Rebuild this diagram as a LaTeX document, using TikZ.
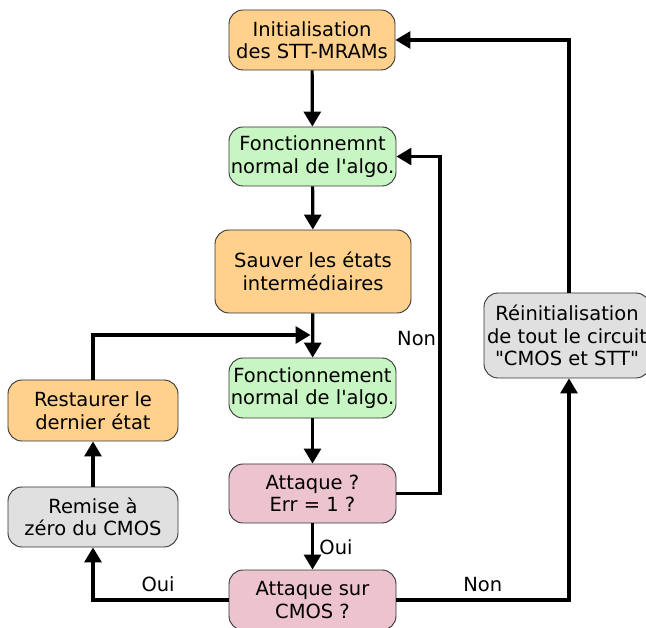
\documentclass[tikz,border=0pt]{standalone}
\usepackage{fontspec}
\setmainfont{DejaVu Sans}[Ligatures=TeXOff]
\usetikzlibrary{arrows.meta}
\definecolor{boxorange}{HTML}{FFD18C}
\definecolor{boxgreen}{HTML}{C8F6C2}
\definecolor{boxpink}{HTML}{EDC3D0}
\definecolor{boxgray}{HTML}{E0E0E0}
\begin{document}
\begin{tikzpicture}[x=1pt,y=-1pt,
  box/.style={draw=black!80,line width=0.9pt,rounded corners=14pt,align=center,
    inner sep=0pt,font=\fontsize{19.5}{22.5}\selectfont},
  flow/.style={line width=3.2pt,-{Triangle[length=15pt,width=17pt]}},
  lbl/.style={font=\fontsize{19.5}{22}\selectfont}]
\clip (0,0) rectangle (646,628);
\fill[white] (0,0) rectangle (646,628);
% process boxes
\node[box,fill=boxorange,minimum width=166pt,minimum height=60pt] (init) at (312,40) {Initialisation\\des STT-MRAMs};
\node[box,fill=boxgreen,minimum width=167pt,minimum height=59pt] (f1) at (312.5,156.5) {Fonctionnemnt\\normal de l'algo.};
\node[box,fill=boxorange,minimum width=196pt,minimum height=83pt] (sauv) at (313,271.5) {Sauver les états\\intermédiaires};
\node[box,fill=boxgreen,minimum width=167pt,minimum height=60pt] (f2) at (312.5,388) {Fonctionnement\\normal de l'algo.};
\node[box,fill=boxpink,minimum width=167pt,minimum height=59pt] (att1) at (312.5,493.5) {Attaque ?\\Err = 1 ?};
\node[box,fill=boxpink,minimum width=167pt,minimum height=60pt] (att2) at (312.5,600) {Attaque sur\\CMOS ?};
\node[box,fill=boxorange,minimum width=170pt,minimum height=61pt] (rest) at (93,410.5) {Restaurer le\\dernier état};
\node[box,fill=boxgray,minimum width=170pt,minimum height=60pt] (rem) at (93,517) {Remise à\\zéro du CMOS};
\node[box,fill=boxgray,minimum width=166pt,minimum height=85pt] (reinit) at (567,335.5) {Réinitialisation\\de tout le circuit\\"CMOS et STT"};
% junction points of the loops
\coordinate (j1) at (440,493.5);
\coordinate (j2) at (440,156.5);
\coordinate (j3) at (93,335);
\coordinate (j4) at (312,335);
\coordinate (j5) at (569,600);
\coordinate (j6) at (569,40);
% connectors
\draw[flow] (init) -- (f1);
\draw[flow] (f1) -- (sauv);
\draw[flow] (sauv) -- (f2);
\draw[flow] (f2) -- (att1);
\draw[flow] (att1) -- node[lbl,right=2pt,yshift=-1pt]{Oui} (att2);
\draw[flow] (att1.east) -- (j1) -- node[lbl,left=-1pt,pos=0.46]{Non} (j2) -- (f1.east);
\draw[flow] (att2.west) -- node[lbl,above=3pt,pos=0.52]{Oui} (93,600) -- (rem.south);
\draw[flow] (rem) -- (rest);
\draw[flow,shorten >=1.5pt] (rest.north) -- (j3) -- (j4);
\draw[flow] (att2.east) -- node[lbl,above=3pt,pos=0.5]{Non} (j5) -- (j5 |- reinit.south);
\draw[flow] (j5 |- reinit.north) -- (j6) -- (init.east);
\end{tikzpicture}
\end{document}
